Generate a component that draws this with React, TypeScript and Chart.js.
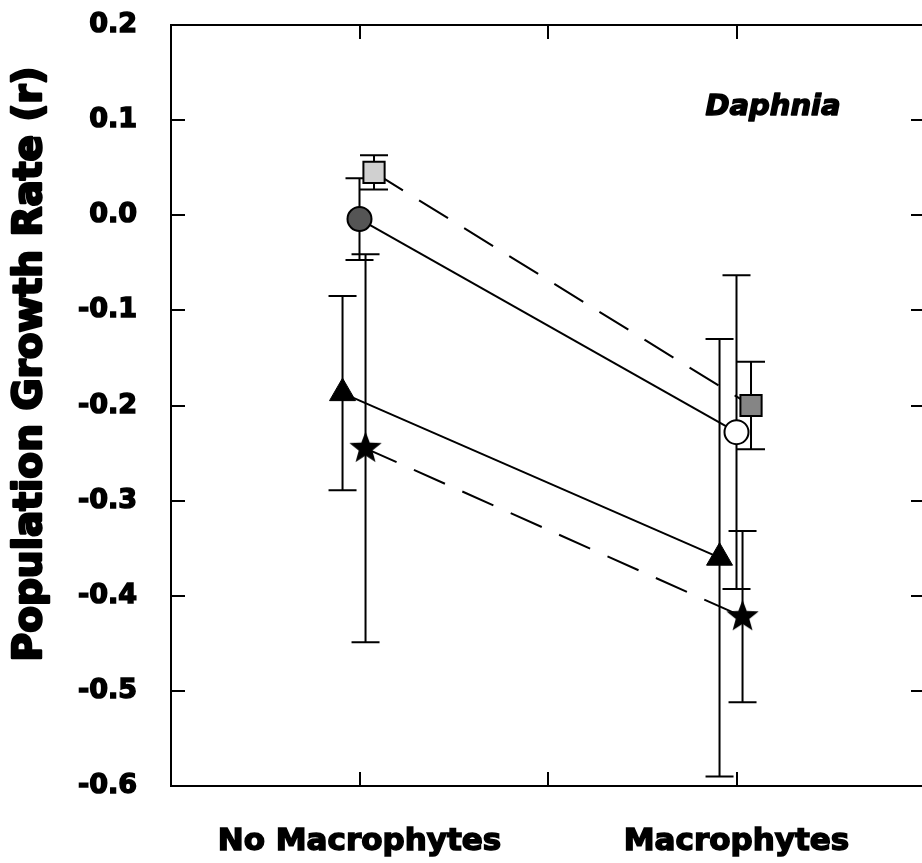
import React, { useEffect, useRef } from 'react';
import { Chart, registerables } from 'chart.js';

Chart.register(...registerables);

// Treatments along the x axis
const groups = ['No Macrophytes', 'Macrophytes'];
const groupX = [1, 3];

// Y axis range and step
const yMin = -0.6;
const yMax = 0.2;
const yStep = 0.1;

// Mean population growth rate (r) and error per treatment
const circleMean = [-0.004, -0.228];
const circleErr = [0.043, 0.165];
const squareMean = [0.045, -0.2];
const squareErr = [0.018, 0.046];
const triangleMean = [-0.187, -0.36];
const triangleErr = [0.102, 0.23];
const starMean = [-0.245, -0.422];
const starErr = [0.204, 0.09];

const seriesErrors = [circleErr, squareErr, triangleErr, starErr];

const FONT = '"DejaVu Sans", "Liberation Sans", Arial, sans-serif';

function makeStar(size: number): HTMLCanvasElement {
  const c = document.createElement('canvas');
  c.width = size;
  c.height = size;
  const ctx = c.getContext('2d')!;
  const cx = size / 2;
  const cy = size / 2;
  const R = size / 2 - 0.5;
  const r = R * 0.42;
  ctx.beginPath();
  for (let i = 0; i < 10; i++) {
    const a = -Math.PI / 2 + (i * Math.PI) / 5;
    const rad = i % 2 ? r : R;
    ctx.lineTo(cx + rad * Math.cos(a), cy + rad * Math.sin(a));
  }
  ctx.closePath();
  ctx.fillStyle = '#000';
  ctx.fill();
  return c;
}

const points = (means: number[], dodge: number) =>
  groupX.map((g, i) => ({ x: g + dodge, y: means[i] }));

const noPadding = (s: any) => {
  s.paddingTop = 0;
  s.paddingBottom = 0;
  s.paddingLeft = 0;
  s.paddingRight = 0;
};

// Error bars, drawn beneath the markers
const errorBarsPlugin = {
  id: 'errorBars',
  beforeDatasetsDraw(chart: any) {
    const { ctx } = chart;
    const y = chart.scales.y;
    ctx.save();
    ctx.strokeStyle = '#000';
    ctx.lineWidth = 2;
    chart.data.datasets.forEach((ds: any, di: number) => {
      const meta = chart.getDatasetMeta(di);
      const errs = seriesErrors[di];
      ds.data.forEach((p: any, i: number) => {
        const px = meta.data[i].x;
        const yt = y.getPixelForValue(p.y + errs[i]);
        const yb = y.getPixelForValue(p.y - errs[i]);
        const cap = 14;
        ctx.beginPath();
        ctx.moveTo(px, yt);
        ctx.lineTo(px, yb);
        ctx.moveTo(px - cap, yt);
        ctx.lineTo(px + cap, yt);
        ctx.moveTo(px - cap, yb);
        ctx.lineTo(px + cap, yb);
        ctx.stroke();
      });
    });
    ctx.restore();
  },
};

// Box frame with inward tick marks on all four sides
const framePlugin = {
  id: 'frame',
  beforeDatasetsDraw(chart: any) {
    const { ctx, chartArea: a } = chart;
    const x = chart.scales.x;
    const y = chart.scales.y;
    const len = 14;
    ctx.save();
    ctx.strokeStyle = '#000';
    ctx.lineWidth = 2;
    ctx.strokeRect(a.left, a.top, a.right - a.left, a.bottom - a.top);
    ctx.beginPath();
    for (let v = yMin; v <= yMax + 1e-9; v += yStep) {
      const py = Math.round(y.getPixelForValue(v));
      ctx.moveTo(a.left, py);
      ctx.lineTo(a.left + len, py);
      ctx.moveTo(a.right, py);
      ctx.lineTo(a.right - len, py);
    }
    for (let v = 1; v <= 3; v++) {
      const px = Math.round(x.getPixelForValue(v));
      ctx.moveTo(px, a.bottom);
      ctx.lineTo(px, a.bottom - len);
      ctx.moveTo(px, a.top);
      ctx.lineTo(px, a.top + len);
    }
    ctx.stroke();
    ctx.restore();
  },
};

function heavyText(ctx: CanvasRenderingContext2D, text: string, x: number, y: number, w: number) {
  ctx.lineWidth = w;
  ctx.lineJoin = 'round';
  ctx.strokeStyle = '#000';
  ctx.strokeText(text, x, y);
  ctx.fillText(text, x, y);
}

// Axis title and panel label
const textPlugin = {
  id: 'texts',
  afterDraw(chart: any) {
    const { ctx } = chart;
    ctx.save();
    ctx.fillStyle = '#000';
    ctx.textAlign = 'center';
    ctx.textBaseline = 'middle';
    ctx.translate(31, 364);
    ctx.rotate(-Math.PI / 2);
    ctx.font = `bold 39px ${FONT}`;
    heavyText(ctx, 'Population Growth Rate (r)', 0, 0, 2.5);
    ctx.restore();

    ctx.save();
    ctx.fillStyle = '#000';
    ctx.textAlign = 'center';
    ctx.textBaseline = 'middle';
    ctx.font = `italic bold 29px ${FONT}`;
    heavyText(ctx, 'Daphnia', 773, 107, 1.5);
    ctx.restore();
  },
};

export default function App() {
  const canvasRef = useRef<HTMLCanvasElement | null>(null);

  useEffect(() => {
    const canvas = canvasRef.current;
    if (!canvas) return;
    const star = makeStar(35);

    const chart = new Chart(canvas, {
      type: 'scatter',
      data: {
        datasets: [
          {
            label: 'circle',
            data: points(circleMean, 0),
            showLine: true,
            borderColor: '#000',
            borderWidth: 2,
            pointStyle: 'circle',
            pointRadius: 12,
            pointBackgroundColor: ['#555555', '#ffffff'],
            pointBorderColor: '#000',
            pointBorderWidth: 2,
          },
          {
            label: 'square',
            data: points(squareMean, 0.077),
            showLine: true,
            borderColor: '#000',
            borderWidth: 2,
            borderDash: [34, 19],
            pointStyle: 'rect',
            pointRadius: 15,
            pointBackgroundColor: ['#d0d0d0', '#858585'],
            pointBorderColor: '#000',
            pointBorderWidth: 2,
          },
          {
            label: 'triangle',
            data: points(triangleMean, -0.09),
            showLine: true,
            borderColor: '#000',
            borderWidth: 2,
            pointStyle: 'triangle',
            pointRadius: 15,
            pointBackgroundColor: '#000',
            pointBorderColor: '#000',
            pointBorderWidth: 1,
          },
          {
            label: 'star',
            data: points(starMean, 0.032),
            showLine: true,
            borderColor: '#000',
            borderWidth: 2,
            borderDash: [34, 19],
            pointStyle: star as any,
            pointRadius: 17,
          },
        ],
      },
      options: {
        responsive: false,
        animation: false,
        devicePixelRatio: 1,
        layout: { padding: { top: 25, right: 5, left: 0, bottom: 0 } },
        plugins: {
          legend: { display: false },
          tooltip: { enabled: false },
        },
        scales: {
          x: {
            type: 'linear',
            min: 0,
            max: 4,
            grid: { display: false },
            border: { display: false },
            ticks: {
              stepSize: 1,
              autoSkip: false,
              maxRotation: 0,
              padding: 29,
              color: '#000',
              textStrokeColor: '#000',
              textStrokeWidth: 1.5,
              font: { family: FONT, size: 31, weight: 'bold' },
              callback: (v: any) => {
                const idx = groupX.indexOf(Number(v));
                return idx >= 0 ? groups[idx] : '';
              },
            },
            afterFit: (s: any) => {
              s.height = 77;
              noPadding(s);
            },
          },
          y: {
            min: yMin,
            max: yMax,
            grid: { display: false },
            border: { display: false },
            ticks: {
              stepSize: yStep,
              padding: 26,
              color: '#000',
              textStrokeColor: '#000',
              textStrokeWidth: 1.5,
              font: { family: FONT, size: 27, weight: 'bold' },
              callback: (v: any) => {
                const s = Number(v).toFixed(1);
                return s === '-0.0' ? '0.0' : s;
              },
            },
            afterFit: (s: any) => {
              s.width = 171;
              noPadding(s);
            },
          },
        },
      },
      plugins: [framePlugin, errorBarsPlugin, textPlugin],
    });

    return () => chart.destroy();
  }, []);

  return (
    <div
      style={{
        position: 'fixed',
        left: 0,
        top: 0,
        width: 922,
        height: 863,
        overflow: 'hidden',
        background: '#fff',
      }}
    >
      <canvas
        ref={canvasRef}
        width={944}
        height={863}
        style={{ display: 'block', width: 944, height: 863 }}
      />
    </div>
  );
}
